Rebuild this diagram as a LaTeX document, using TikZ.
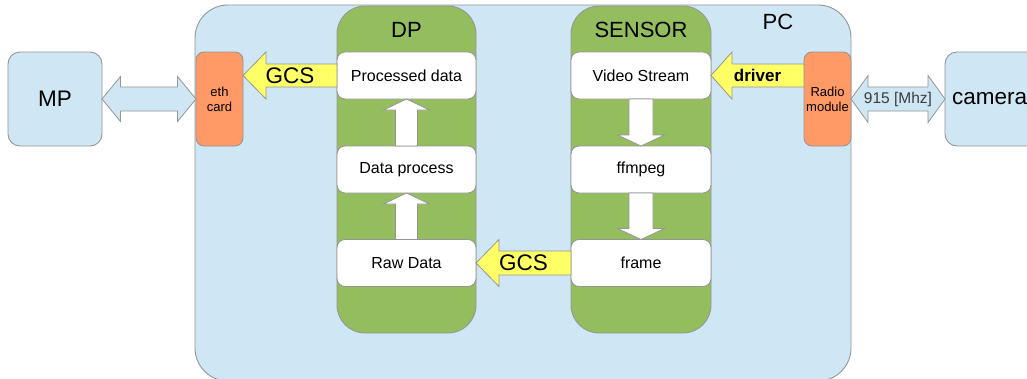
\documentclass[tikz,border=0pt]{standalone}
\usepackage{fontspec}
\setmainfont{Liberation Sans}
\usetikzlibrary{calc}

\definecolor{pcblue}{RGB}{207,230,244}
\definecolor{colgreen}{RGB}{148,189,94}
\definecolor{cardorange}{RGB}{255,153,102}
\definecolor{flowyellow}{RGB}{255,255,102}
\definecolor{edgegray}{RGB}{150,150,150}
\definecolor{labelgray}{RGB}{60,60,60}

\tikzset{
  outline/.style={draw=edgegray, line width=0.9pt, outer sep=0pt, inner sep=0pt},
  pcbox/.style={outline, fill=pcblue, rounded corners=33pt},
  column/.style={outline, fill=colgreen, rounded corners=28pt, minimum height=327pt},
  stepbox/.style={outline, fill=white, rounded corners=8pt, minimum height=47pt,
                  font=\fontsize{16}{19}\selectfont},
  card/.style={outline, fill=cardorange, rounded corners=8pt, minimum width=47pt,
               minimum height=94pt, align=center, font=\fontsize{13}{15}\selectfont},
  endbox/.style={outline, fill=pcblue, rounded corners=12pt, minimum height=94pt,
                 font=\fontsize{22.5}{26}\selectfont},
  title/.style={font=\fontsize{22}{26}\selectfont},
  flowlabel/.style={font=\fontsize{22.5}{26}\selectfont},
  drvlabel/.style={font=\bfseries\fontsize{17}{20}\selectfont},
  freqlabel/.style={text=labelgray, font=\fontsize{15.5}{18}\selectfont},
  yellowarrow/.style={draw=edgegray, line width=0.8pt, fill=flowyellow},
  whitearrow/.style={draw=edgegray, line width=0.8pt, fill=white},
  linkarrow/.style={draw=edgegray, line width=0.8pt, fill=pcblue},
}

% block arrow: style, tail, tip, shaft half-width, head half-width, head length
\newcommand\blockarrow[6]{%
  \path (#2) coordinate (ba-s) (#3) coordinate (ba-e);
  \path ($(ba-e)!#6!(ba-s)$) coordinate (ba-b);
  \draw[#1] ($(ba-s)!#4!90:(ba-e)$) -- ($(ba-b)!#4!90:(ba-e)$)
    -- ($(ba-b)!#5!90:(ba-e)$) -- (ba-e) -- ($(ba-b)!#5!-90:(ba-e)$)
    -- ($(ba-b)!#4!-90:(ba-e)$) -- ($(ba-s)!#4!-90:(ba-e)$) -- cycle;
}

% double-headed block arrow: style, end A, end B, shaft half-width, head half-width, head length
\newcommand\dblarrow[6]{%
  \path (#2) coordinate (da-s) (#3) coordinate (da-e);
  \path ($(da-s)!#6!(da-e)$) coordinate (da-b1) ($(da-e)!#6!(da-s)$) coordinate (da-b2);
  \draw[#1] (da-s) -- ($(da-b1)!#5!90:(da-e)$) -- ($(da-b1)!#4!90:(da-e)$)
    -- ($(da-b2)!#4!90:(da-e)$) -- ($(da-b2)!#5!90:(da-e)$) -- (da-e)
    -- ($(da-b2)!#5!-90:(da-e)$) -- ($(da-b2)!#4!-90:(da-e)$)
    -- ($(da-b1)!#4!-90:(da-e)$) -- ($(da-b1)!#5!-90:(da-e)$) -- cycle;
}

\begin{document}
\begin{tikzpicture}[x=1pt, y=-1pt]
  \clip (0,0) rectangle (1027,378);
  \fill[white] (0,0) rectangle (1027,378);

  % PC enclosure
  \node[pcbox, minimum width=656pt, minimum height=376pt, anchor=north west] (pc) at (195,5) {};
  \node[title] at (778,22) {PC};

  % processing columns
  \node[column, minimum width=139pt, anchor=north west] (dp) at (337,6) {};
  \node[column, minimum width=140pt, anchor=north west] (sensor) at (571,6) {};
  \node[title] at ([yshift=-24pt]dp.north) {DP};
  \node[title] at ([yshift=-24pt]sensor.north) {SENSOR};

  % DP steps
  \node[stepbox, minimum width=139pt] (pd)    at (406.5,75.5)  {Processed data};
  \node[stepbox, minimum width=139pt] (dproc) at (406.5,169.5) {Data process};
  \node[stepbox, minimum width=139pt] (rd)    at (406.5,263)   {Raw Data};

  % SENSOR steps
  \node[stepbox, minimum width=140pt] (vs) at (641,75.5)  {Video Stream};
  \node[stepbox, minimum width=140pt] (ff) at (641,169.5) {ffmpeg};
  \node[stepbox, minimum width=140pt] (fr) at (641,263)   {frame};

  % interface cards
  \node[card] (eth)   at (219.5,99) {eth\\card};
  \node[card] (radio) at (827.5,99) {Radio\\module};

  % external devices
  \node[endbox, minimum width=94pt] (mp) at (55,99) {MP};
  \node[endbox, minimum width=130pt, anchor=west, align=left, text width=116pt] (cam) at (945,99) {camera};

  % flow inside the columns
  \blockarrow{whitearrow}{dproc.north}{pd.south}{11pt}{23pt}{11pt}
  \blockarrow{whitearrow}{rd.north}{dproc.south}{11pt}{23pt}{11pt}
  \blockarrow{whitearrow}{vs.south}{ff.north}{12pt}{23.5pt}{11pt}
  \blockarrow{whitearrow}{ff.south}{fr.north}{12pt}{23.5pt}{11pt}

  % flows between blocks
  \blockarrow{yellowarrow}{pd.west}{eth.east |- pd.west}{11.5pt}{23.5pt}{23pt}
  \node[flowlabel] at ($(pd.west)!0.5!(eth.east |- pd.west)$) {GCS};

  \blockarrow{yellowarrow}{radio.west |- vs.east}{vs.east}{11.5pt}{23.5pt}{21pt}
  \node[drvlabel] at ($(vs.east)!0.5!(radio.west |- vs.east)$) {driver};

  \blockarrow{yellowarrow}{fr.west}{rd.east}{12pt}{23.5pt}{23pt}
  \node[flowlabel] at ($(fr.west)!0.5!(rd.east)$) {GCS};

  % external links
  \dblarrow{linkarrow}{mp.east}{eth.west}{12pt}{22.5pt}{18.5pt}
  \dblarrow{linkarrow}{radio.east}{cam.west}{12pt}{23.5pt}{17pt}
  \node[freqlabel] at ($(radio.east)!0.5!(cam.west)$) {915 [Mhz]};
\end{tikzpicture}
\end{document}
